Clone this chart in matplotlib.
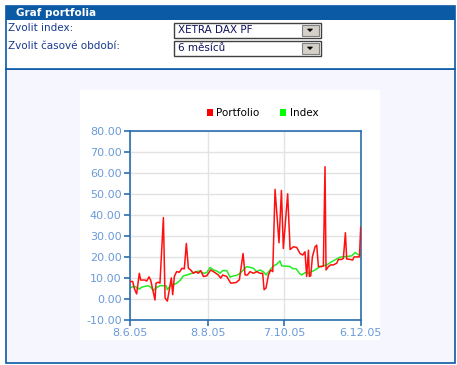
import matplotlib
matplotlib.use("Agg")
import matplotlib.pyplot as plt
from matplotlib.patches import Rectangle, Polygon

# days since 8.6.05 and % change
port_days = [0, 2.1, 3.4, 5.2, 7.3, 8.4, 11.8, 13.1, 14.9, 16.2, 19.6, 20.4, 22.2, 23.5,
             26.2, 27.5, 29.3, 30.9, 32.4, 33.5, 34.8, 36.6, 38.7, 40.8, 42.6, 44.2,
             45.8, 47.6, 49.7, 51.8, 53.6, 55.5, 57.6, 60.2, 63.3, 66.7, 69.3, 71.2,
             72.7, 75.9, 79.0, 83.2, 85.8, 88.7, 90.3, 92.1, 94.2, 96.8, 99.4, 102.0,
             104.1, 105.2, 106.7, 108.6, 110.4, 112.0, 113.8, 116.9, 118.8, 120.3,
             123.7, 125.6, 128.2, 130.8, 133.4, 135.5, 137.3, 138.6, 140.0, 140.7,
             141.8, 143.1, 145.2, 146.5, 147.8, 150.4, 151.7, 153.0, 153.8, 155.7,
             157.5, 159.6, 162.2, 163.5, 166.1, 167.4, 169.0, 170.0, 172.7, 174.7,
             175.8, 177.9, 180.0, 181]
portfolio = [8.3, 8.3, 5.0, 2.4, 12.2, 9.0, 9.0, 8.5, 10.5, 9.0, -0.5, 7.5, 8.0, 7.5,
             38.7, 0.5, -1.0, 4.5, 10.0, 2.0, 10.7, 13.0, 12.7, 14.6, 14.3, 26.4,
             14.6, 13.8, 12.2, 13.0, 12.2, 13.5, 10.7, 11.0, 13.8, 12.5, 11.4, 9.9,
             11.4, 10.7, 7.5, 7.8, 9.1, 21.6, 11.4, 11.4, 13.0, 12.2, 13.0, 12.2,
             12.2, 4.4, 5.2, 11.4, 13.8, 13.0, 52.1, 26.7, 51.6, 24.0,
             50.0, 23.5, 24.8, 24.5, 21.6, 20.9, 22.4, 10.7, 23.2, 10.7,
             11.0, 20.0, 24.8, 25.6, 15.4, 15.4, 15.6, 62.9, 13.8, 15.4,
             16.2, 16.2, 17.0, 18.8, 18.8, 19.3, 31.5, 19.0, 18.8, 18.5,
             20.0, 20.0, 20.0, 34.0]

index_days = [0, 2.6, 5.2, 7.3, 9.2, 11.8, 14.4, 16.2, 18.3, 20.4, 23.5, 26.2, 28.3,
              29.3, 31.4, 33.5, 36.6, 39.2, 41.9, 44.5, 47.1, 49.7, 52.3, 54.9, 57.6,
              60.2, 62.8, 65.4, 68.1, 70.6, 72.7, 75.9, 78.5, 81.1, 83.7, 86.3, 91.6,
              96.8, 99.4, 102.0, 104.6, 106.7, 109.9, 112.5, 115.1, 117.7, 119.0,
              122.9, 125.6, 127.6, 130.3, 132.9, 134.7, 137.3, 140.0, 142.6, 145.2,
              149.1, 154.4, 157.0, 160.9, 164.8, 170.0, 174.0, 176.6, 179.2, 181]
index = [5.2, 6.0, 5.6, 4.7, 5.6, 6.0, 6.3, 5.6, 4.1, 5.2, 6.3, 6.3, 6.3,
         4.4, 6.3, 6.7, 7.5, 8.8, 11.0, 11.4, 11.9, 12.5, 13.0, 13.3, 12.2,
         12.5, 15.0, 13.8, 13.3, 12.2, 13.5, 13.5, 10.4, 11.0, 11.2, 12.2, 15.4,
         14.6, 13.0, 13.8, 13.0, 11.4, 13.8, 15.7, 16.5, 18.1, 15.7,
         15.6, 15.4, 14.4, 14.4, 12.2, 11.4, 12.5, 12.2, 13.0, 13.8,
         15.4, 16.2, 17.3, 18.6, 19.9, 20.2, 20.5, 22.1, 21.0, 21.0]

tick_days = [0, 61, 121, 181]
tick_labels = ["8.6.05", "8.8.05", "7.10.05", "6.12.05"]
yticks = [-10, 0, 10, 20, 30, 40, 50, 60, 70, 80]

W, H = 457, 365
fig = plt.figure(figsize=(W / 100, H / 100), dpi=100)
fig.patch.set_facecolor("white")

# page frame drawn in pixel coords
bg = fig.add_axes([0, 0, 1, 1])
bg.set_xlim(0, W)
bg.set_ylim(H, 0)
bg.axis("off")

navy = "#0b5aa6"
bg.add_patch(Rectangle((5.5, 68.5), 449, 294, fc="#f5f6fe", ec=navy, lw=1.2))
bg.add_patch(Rectangle((5.5, 5.5), 449, 63, fc="white", ec=navy, lw=1.2))
bg.add_patch(Rectangle((5.5, 5.5), 449, 14, fc=navy, ec=navy, lw=0))
bg.text(16, 13, "Graf portfolia", color="white", fontsize=7.5, fontweight="bold",
        va="center", ha="left")
bg.text(8, 28, "Zvolit index:", color="#1a3a8f", fontsize=7.5, va="center")
bg.text(8, 46, "Zvolit časové období:", color="#1a3a8f", fontsize=7.5, va="center")

for y0, label in [(22, "XETRA DAX PF"), (40, "6 měsíců")]:
    bg.add_patch(Rectangle((173.5, y0 + 0.5), 147, 15, fc="white", ec="#404040", lw=1))
    bg.add_patch(Rectangle((301.5, y0 + 2.5), 17, 11, fc="#d4d0c8", ec="#808080", lw=0.8))
    bg.add_patch(Polygon([[307.5, y0 + 7], [312.5, y0 + 7], [310, y0 + 9.5]],
                         closed=True, fc="black", ec="black", lw=0.5))
    bg.text(178, y0 + 8, label, color="#101060", fontsize=7.5, va="center")

bg.add_patch(Rectangle((80, 90), 300, 250, fc="white", ec="none"))

# legend
bg.add_patch(Rectangle((207, 109), 6, 7, fc="#ff0000", ec="none"))
bg.text(216, 112.5, "Portfolio", fontsize=7.5, va="center", color="black")
bg.add_patch(Rectangle((280, 109), 6, 7, fc="#00ff00", ec="none"))
bg.text(290, 112.5, "Index", fontsize=7.5, va="center", color="black")

# chart
ax = fig.add_axes([130 / W, (H - 320) / H, 230.7 / W, 189.3 / H])
ax.set_facecolor("white")
ax.plot(port_days, portfolio, color="#ff1010", lw=1.1, zorder=3)
ax.plot(index_days, index, color="#22ee22", lw=1.1, zorder=2)
ax.set_xlim(0, 181)
ax.set_ylim(-10, 80)
ax.set_xticks(tick_days)
ax.set_xticklabels(tick_labels)
ax.set_yticks(yticks)
ax.set_yticklabels([f"{v:.2f}" for v in yticks])
ax.grid(True, color="#e3e3e3", lw=1)
ax.set_axisbelow(True)
spine = "#2a6db0"
for s in ax.spines.values():
    s.set_color(spine)
    s.set_linewidth(1.2)
ax.tick_params(colors=spine, labelcolor="#6a9ad8", labelsize=8, length=4, width=1.2,
               direction="out", pad=2)

fig.savefig("out.png", dpi=100)
